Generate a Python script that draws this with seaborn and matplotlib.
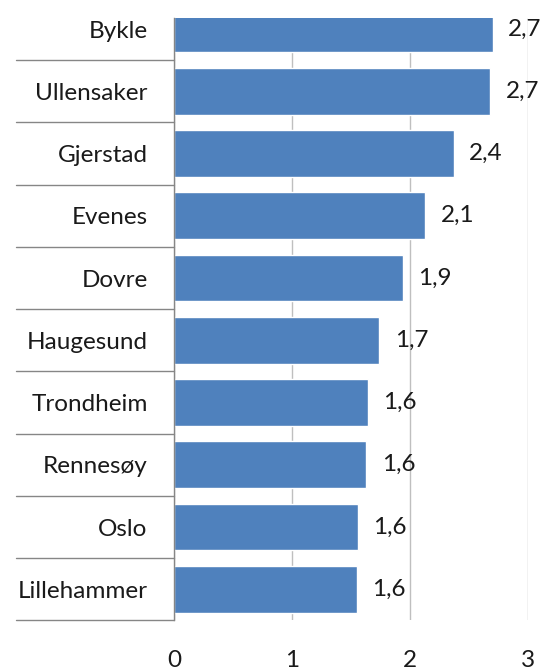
import matplotlib
matplotlib.use("Agg")
import matplotlib.pyplot as plt
import pandas as pd
import seaborn as sns

# values
kommuner = ["Bykle", "Ullensaker", "Gjerstad", "Evenes", "Dovre",
            "Haugesund", "Trondheim", "Rennesøy", "Oslo", "Lillehammer"]
verdier = [2.70, 2.68, 2.37, 2.13, 1.94, 1.74, 1.64, 1.63, 1.56, 1.55]
x_ticks = [0, 1, 2, 3]

df = pd.DataFrame({"kommune": kommuner, "verdi": verdier})

sns.set_style("white")
plt.rcParams["font.family"] = ["Lato", "DejaVu Sans"]

fig = plt.figure(figsize=(5.45, 6.71), dpi=100)
ax = fig.add_axes([0.3193, 0.0753, 0.6495, 0.8979])

sns.barplot(data=df, x="verdi", y="kommune", orient="h", color="#4F81BD",
            saturation=1, width=0.75, ax=ax, zorder=2)

ax.set_xlim(0, 3)
ax.set_ylim(9.5, -0.177)
ax.set_xticks(x_ticks)
ax.set_xticklabels([str(t) for t in x_ticks])
ax.set_xlabel("")
ax.set_ylabel("")

ax.xaxis.grid(True, color="#BFBFBF", linewidth=1, zorder=0)
ax.yaxis.grid(False)
ax.set_axisbelow(True)

for side in ["top", "right", "bottom"]:
    ax.spines[side].set_visible(False)
ax.spines["left"].set_color("#868686")
ax.spines["left"].set_linewidth(1)

fs = 17.5
ax.tick_params(axis="y", length=0, pad=19, labelsize=fs, labelcolor="#1a1a1a")
ax.tick_params(axis="x", length=0, pad=21, labelsize=fs, labelcolor="#1a1a1a")

# category separators to the left of the axis
for k in range(len(kommuner)):
    ax.plot([-0.445, 0], [k + 0.5, k + 0.5], color="#868686", linewidth=1,
            transform=ax.get_yaxis_transform(), clip_on=False, zorder=3)

labels = [f"{v:.1f}".replace(".", ",") for v in verdier]
ax.bar_label(ax.containers[0], labels=labels, padding=11, fontsize=fs,
             color="#1a1a1a")

fig.savefig("out.png", dpi=100)
